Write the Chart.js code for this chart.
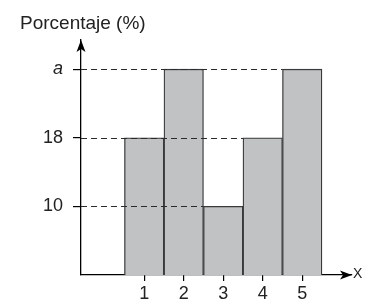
<!DOCTYPE html>
<html>
<head>
<meta charset="utf-8">
<script src="https://cdn.jsdelivr.net/npm/chart.js@4"></script>
<style>
  html, body { margin: 0; padding: 0; background: #fff; }
  canvas { display: block; }
</style>
</head>
<body>
<canvas id="histChart" width="367" height="299"></canvas>
<script>
// datos
const categories = [1, 2, 3, 4, 5];
const porcentajes = [18, 26, 10, 18, 26];
const yTickValues = [10, 18, 26];
const yTickLabels = ['10', '18', 'a'];
const yTitle = 'Porcentaje (%)';
const xTitle = 'X';

const yMin = 2;
const yMax = 29.4;
const xMin = -0.6;
const xMax = 6.26;

const fontFamily = '"Liberation Sans", Arial, sans-serif';

function drawArrow(ctx, x, y, dir) {
    // punta de flecha estilo "stealth"
    const len = 12, half = 4.5, notch = 3;
    ctx.save();
    ctx.translate(x, y);
    if (dir === 'up') ctx.rotate(-Math.PI / 2);
    ctx.beginPath();
    ctx.moveTo(0, 0);
    ctx.lineTo(-len, -half);
    ctx.lineTo(-len + notch, 0);
    ctx.lineTo(-len, half);
    ctx.closePath();
    ctx.fillStyle = '#000';
    ctx.fill();
    ctx.restore();
}

// líneas discontinuas y flechas de los ejes
const guidesPlugin = {
    id: 'guides',
    afterDatasetsDraw(chart) {
        const { ctx, chartArea, scales } = chart;
        const xs = scales.x, ys = scales.y;
        ctx.save();
        ctx.strokeStyle = '#2a2a2a';
        ctx.lineWidth = 1.2;
        ctx.setLineDash([6, 4]);
        yTickValues.forEach((v) => {
            const idx = porcentajes.lastIndexOf(v);
            if (idx < 0) return;
            const xEnd = xs.getPixelForValue(categories[idx] - 0.5);
            const y = Math.round(ys.getPixelForValue(v)) + 0.5;
            ctx.beginPath();
            ctx.moveTo(chartArea.left, y);
            ctx.lineTo(xEnd, y);
            ctx.stroke();
        });
        ctx.restore();
    },
    afterDraw(chart) {
        const { ctx, chartArea } = chart;
        drawArrow(ctx, chartArea.left, chartArea.top, 'up');
        drawArrow(ctx, chartArea.right, chartArea.bottom, 'right');
        ctx.save();
        ctx.fillStyle = '#222';
        ctx.font = '14px ' + fontFamily;
        ctx.textAlign = 'left';
        ctx.textBaseline = 'middle';
        ctx.fillText(xTitle, chartArea.right + 1, chartArea.bottom - 1);
        ctx.restore();
    }
};

const ctx = document.getElementById('histChart').getContext('2d');
const histChart = new Chart(ctx, {
    type: 'bar',
    data: {
        datasets: [{
            data: categories.map((c, i) => ({ x: c, y: porcentajes[i] })),
            base: yMin,
            backgroundColor: '#c0c2c4',
            borderColor: '#3a3a3a',
            borderWidth: 1.3,
            barPercentage: 1,
            categoryPercentage: 1,
        }],
    },
    options: {
        responsive: false,
        animation: false,
        layout: { padding: { left: 20, right: 15, top: 0, bottom: 0 } },
        plugins: {
            legend: { display: false },
            tooltip: { enabled: false },
            title: {
                display: true,
                text: yTitle,
                align: 'start',
                color: '#222',
                font: { family: fontFamily, size: 19, weight: 'normal' },
                padding: { top: 12.6, bottom: 4.6 },
            },
        },
        scales: {
            x: {
                type: 'linear',
                min: xMin,
                max: xMax,
                offset: false,
                afterBuildTicks: (scale) => {
                    scale.ticks = categories.map((v) => ({ value: v }));
                },
                afterFit: (scale) => { scale.height = 24; },
                grid: {
                    offset: false,
                    drawOnChartArea: false,
                    drawTicks: true,
                    tickLength: 6,
                    color: '#000',
                    lineWidth: 1.2,
                },
                border: { display: true, color: '#000', width: 1.3 },
                ticks: {
                    autoSkip: false,
                    maxRotation: 0,
                    padding: 2,
                    color: '#222',
                    font: { family: fontFamily, size: 18 },
                    callback: (v) => String(v),
                },
            },
            y: {
                type: 'linear',
                min: yMin,
                max: yMax,
                afterBuildTicks: (scale) => {
                    scale.ticks = yTickValues.map((v) => ({ value: v }));
                },
                afterFit: (scale) => { scale.width = 61; },
                grid: {
                    drawOnChartArea: false,
                    drawTicks: true,
                    tickLength: 8,
                    color: '#000',
                    lineWidth: 1.2,
                },
                border: { display: true, color: '#000', width: 1.3 },
                ticks: {
                    padding: 10,
                    color: '#222',
                    font: (c) => ({
                        family: fontFamily,
                        size: 18,
                        style: c.tick && c.tick.value === 26 ? 'italic' : 'normal',
                    }),
                    callback: (v) => {
                        const i = yTickValues.indexOf(v);
                        return i >= 0 ? yTickLabels[i] : '';
                    },
                },
            },
        },
    },
    plugins: [guidesPlugin],
});
</script>
</body>
</html>
